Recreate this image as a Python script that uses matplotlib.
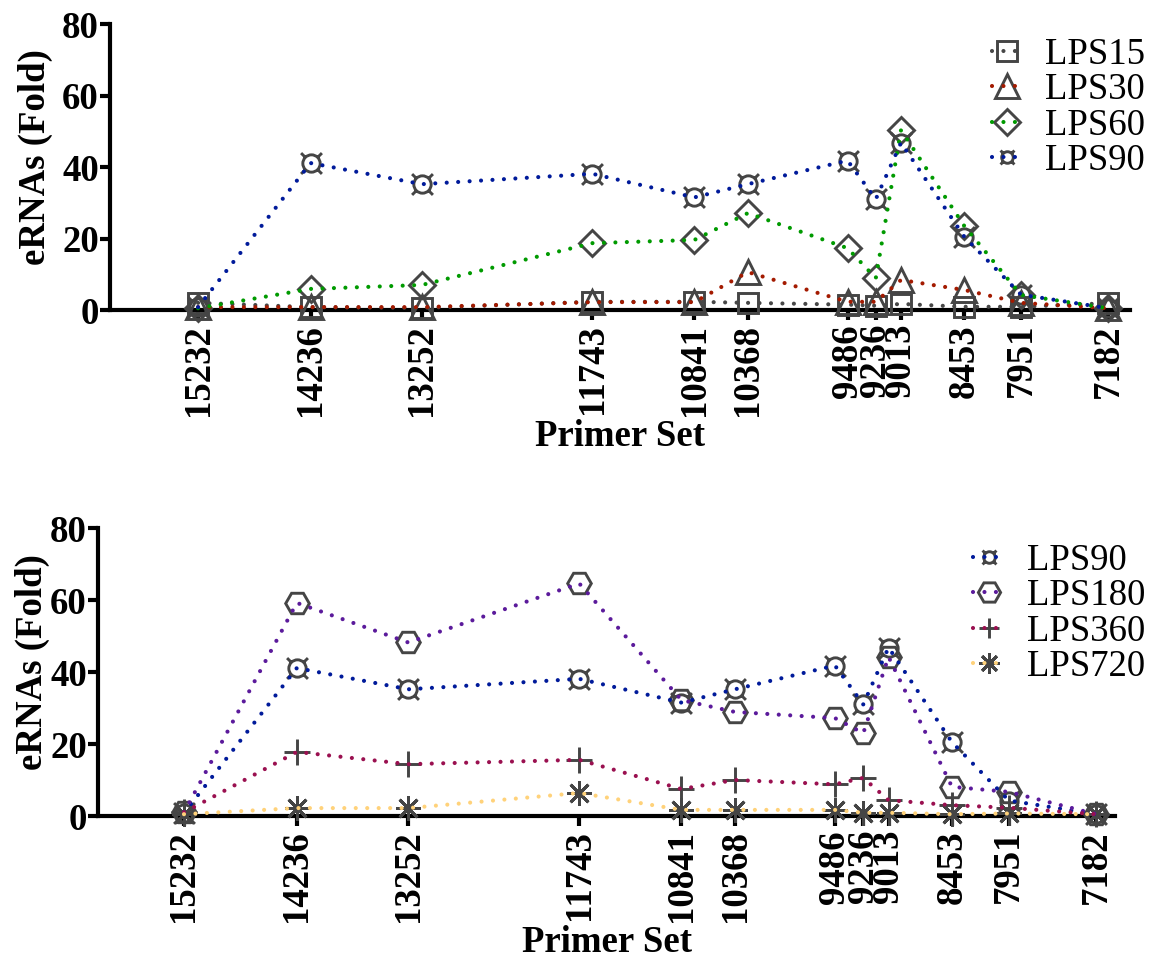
import matplotlib
matplotlib.use('Agg')
import matplotlib.pyplot as plt
from matplotlib.path import Path
from matplotlib.lines import Line2D
from matplotlib.legend_handler import HandlerTuple
import numpy as np

# ---------------- data ----------------
primer_sets = [15232, 14236, 13252, 11743, 10841, 10368, 9486, 9236, 9013, 8453, 7951, 7182]
tick_labels = [str(p) for p in primer_sets]

lps15 = [2.0, 0.8, 0.6, 2.3, 2.3, 2.0, 1.5, 1.2, 1.7, 0.9, 0.9, 1.9]
lps30 = [0.8, 0.8, 0.8, 2.2, 2.2, 10.6, 2.3, 2.3, 8.4, 5.6, 2.0, 0.5]
lps60 = [0.5, 5.9, 7.0, 18.7, 19.6, 27.1, 17.3, 8.9, 50.3, 23.5, 4.2, 0.5]
lps90 = [0.8, 41.1, 35.2, 38.1, 31.5, 35.2, 41.8, 31.0, 46.8, 20.5, 4.3, 0.5]
lps180 = [1.0, 59.2, 48.2, 64.6, 32.2, 28.9, 27.2, 23.0, 44.2, 8.1, 6.7, 0.5]
lps360 = [1.0, 17.8, 14.4, 15.6, 7.5, 10.0, 8.8, 10.6, 4.4, 3.0, 2.3, 0.5]
lps720 = [0.5, 2.2, 2.2, 6.4, 1.7, 1.7, 1.7, 0.9, 0.9, 0.5, 0.7, 0.5]

# ---------------- style ----------------
plt.rcParams['font.family'] = ['Liberation Serif', 'DejaVu Serif']
EDGE = '#454545'

# currency-sign like marker: circle with four short diagonal ticks
R = 0.5
circ = Path.unit_circle()
circ = Path(circ.vertices * R, circ.codes)
segs = []
for ang in [45, 135, 225, 315]:
    a = np.deg2rad(ang)
    segs.append(Path([[R * np.cos(a), R * np.sin(a)], [0.85 * np.cos(a), 0.85 * np.sin(a)]],
                     [Path.MOVETO, Path.LINETO]))
currency_marker = Path.make_compound_path(circ, *segs)

styles = {
    'LPS15': dict(color='#474747', marker='s', ms=15, lms=15),
    'LPS30': dict(color='#a31a00', marker='^', ms=17, lms=17),
    'LPS60': dict(color='#009a00', marker='D', ms=13, lms=13),
    'LPS90': dict(color='#001a9a', marker=currency_marker, ms=15, lms=10),
    'LPS180': dict(color='#5b1a9b', marker='H', ms=17, lms=16),
    'LPS360': dict(color='#9a1050', marker='+', ms=19, lms=15),
    'LPS720': dict(color='#ffd27a', marker=(8, 2, 0), ms=18, lms=15),
}

LW = 3.0
DOT = (0, (0.001, 2.75))


def draw_series(ax, name, values):
    st = styles[name]
    ax.plot(primer_sets, values, linestyle='none', marker=st['marker'], ms=st['ms'],
            mfc='none', mec=EDGE, mew=2.1, zorder=3, clip_on=False)
    ax.plot(primer_sets, values, linestyle=DOT, color=st['color'], lw=LW,
            dash_capstyle='round', zorder=4, clip_on=False)
    # legend proxy
    m = Line2D([], [], linestyle='none', marker=st['marker'], ms=st['lms'],
               mfc='none', mec=EDGE, mew=2.1)
    l = Line2D([], [], linestyle=DOT, color=st['color'], lw=LW, dash_capstyle='round')
    return (m, l)


def style_axes(ax, xlim, ylab_x):
    ax.set_xlim(*xlim)
    ax.set_ylim(0, 80)
    ax.set_yticks([0, 20, 40, 60, 80])
    ax.set_xticks(primer_sets)
    ax.set_xticklabels(tick_labels, rotation=90, fontweight='bold', fontsize=26.5)
    for lab in ax.get_yticklabels():
        lab.set_fontweight('bold')
        lab.set_fontsize(26.5)
    ax.spines['top'].set_visible(False)
    ax.spines['right'].set_visible(False)
    ax.spines['left'].set_linewidth(3)
    ax.spines['bottom'].set_linewidth(3)
    ax.tick_params(axis='both', which='major', length=7, width=3, direction='out')
    ax.tick_params(axis='y', pad=1)
    ax.tick_params(axis='x', pad=3)
    ax.set_ylabel('eRNAs (Fold)', fontsize=26.5, fontweight='bold')
    ax.yaxis.set_label_coords(ylab_x, 0.535)
    ax.set_xlabel('Primer Set', fontsize=26.5, fontweight='bold', labelpad=2)


fig = plt.figure(figsize=(11.55, 9.6), dpi=100)
W, H = 1155, 960

ax1 = fig.add_axes([110 / W, 1 - 310 / H, (1130 - 110) / W, (310 - 24) / H])
ax2 = fig.add_axes([98 / W, 1 - 816 / H, (1115 - 98) / W, (816 - 528) / H])

h15 = draw_series(ax1, 'LPS15', lps15)
h30 = draw_series(ax1, 'LPS30', lps30)
h60 = draw_series(ax1, 'LPS60', lps60)
h90 = draw_series(ax1, 'LPS90', lps90)
style_axes(ax1, (16011, 6987), -0.056)

g90 = draw_series(ax2, 'LPS90', lps90)
g180 = draw_series(ax2, 'LPS180', lps180)
g360 = draw_series(ax2, 'LPS360', lps360)
g720 = draw_series(ax2, 'LPS720', lps720)
style_axes(ax2, (15991, 7014), -0.047)

leg_kw = dict(frameon=False, fontsize=26.5, handler_map={tuple: HandlerTuple(ndivide=1, pad=0)},
              handlelength=0.85, handletextpad=0.6, labelspacing=0.03, borderaxespad=0,
              borderpad=0)
ax1.legend([h15, h30, h60, h90], ['LPS15', 'LPS30', 'LPS60', 'LPS90'],
           loc='upper right', bbox_to_anchor=(1145 / W, 1 - 37 / H), bbox_transform=fig.transFigure, **leg_kw)
ax2.legend([g90, g180, g360, g720], ['LPS90', 'LPS180', 'LPS360', 'LPS720'],
           loc='upper right', bbox_to_anchor=(1145 / W, 1 - 543 / H), bbox_transform=fig.transFigure, **leg_kw)

fig.savefig('out.png', dpi=100)
